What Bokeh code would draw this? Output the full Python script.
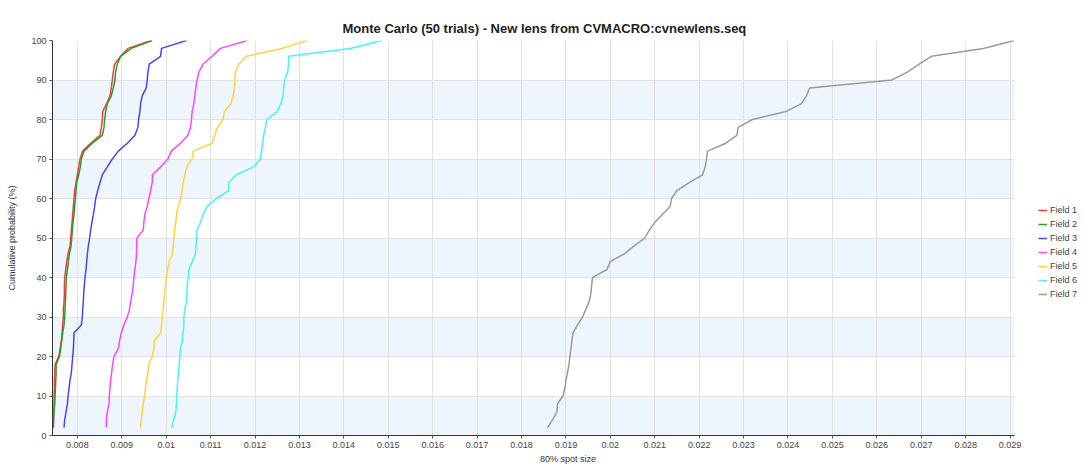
from bokeh.plotting import figure
from bokeh.models import (Range1d, FixedTicker, CustomJSTickFormatter, BoxAnnotation,
                          Legend, LegendItem, LinearAxis)
from bokeh.embed import file_html
from bokeh.resources import INLINE

title = "Monte Carlo (50 trials)  -  New lens from CVMACRO:cvnewlens.seq"
x_label = "80% spot size"
y_label = "Cumulative probability (%)"

probability = [2, 4, 6, 8, 10, 12, 14, 16, 18, 20, 22, 24, 26, 28, 30, 32, 34, 36, 38, 40,
               42, 44, 46, 48, 50, 52, 54, 56, 58, 60, 62, 64, 66, 68, 70, 72, 74, 76, 78, 80,
               82, 84, 86, 88, 90, 92, 94, 96, 98, 100]

field_names = ["Field 1", "Field 2", "Field 3", "Field 4", "Field 5", "Field 6", "Field 7"]
field_colors = ["#f23c3c", "#2e9a2e", "#4646f5", "#ff45ff", "#ffd23c", "#45f5f5", "#9a9a9a"]

field1 = [0.007461, 0.007468, 0.007468, 0.007476, 0.007476, 0.007483, 0.007483, 0.007491, 0.007498, 0.007581,
          0.007611, 0.007640, 0.007655, 0.007670, 0.007685, 0.007685, 0.007700, 0.007708, 0.007708, 0.007715,
          0.007738, 0.007760, 0.007790, 0.007835, 0.007850, 0.007865, 0.007880, 0.007895, 0.007910, 0.007925,
          0.007940, 0.007970, 0.008000, 0.008030, 0.008060, 0.008120, 0.008300, 0.008509, 0.008539, 0.008562,
          0.008569, 0.008659, 0.008734, 0.008764, 0.008786, 0.008809, 0.008839, 0.008974, 0.009138, 0.009663]
field2 = [0.007446, 0.007461, 0.007476, 0.007491, 0.007498, 0.007506, 0.007513, 0.007521, 0.007521, 0.007596,
          0.007625, 0.007648, 0.007670, 0.007700, 0.007715, 0.007723, 0.007730, 0.007738, 0.007745, 0.007753,
          0.007775, 0.007798, 0.007820, 0.007858, 0.007873, 0.007888, 0.007903, 0.007925, 0.007940, 0.007955,
          0.007970, 0.007985, 0.008030, 0.008067, 0.008090, 0.008150, 0.008337, 0.008562, 0.008599, 0.008614,
          0.008637, 0.008674, 0.008764, 0.008809, 0.008846, 0.008861, 0.008899, 0.008974, 0.009213, 0.009685]
field3 = [0.007700, 0.007715, 0.007745, 0.007775, 0.007790, 0.007813, 0.007835, 0.007865, 0.007880, 0.007895,
          0.007910, 0.007918, 0.007925, 0.008090, 0.008112, 0.008120, 0.008135, 0.008142, 0.008157, 0.008172,
          0.008195, 0.008210, 0.008225, 0.008247, 0.008277, 0.008300, 0.008330, 0.008360, 0.008389, 0.008412,
          0.008457, 0.008509, 0.008562, 0.008674, 0.008786, 0.008921, 0.009124, 0.009296, 0.009363, 0.009378,
          0.009408, 0.009423, 0.009461, 0.009550, 0.009573, 0.009588, 0.009618, 0.009873, 0.009895, 0.010457]
field4 = [0.008652, 0.008652, 0.008674, 0.008712, 0.008719, 0.008734, 0.008749, 0.008771, 0.008794, 0.008824,
          0.008921, 0.008951, 0.008989, 0.009049, 0.009124, 0.009176, 0.009198, 0.009236, 0.009258, 0.009273,
          0.009296, 0.009318, 0.009333, 0.009333, 0.009341, 0.009483, 0.009498, 0.009520, 0.009573, 0.009610,
          0.009648, 0.009685, 0.009693, 0.009873, 0.010037, 0.010112, 0.010322, 0.010487, 0.010547, 0.010569,
          0.010584, 0.010622, 0.010644, 0.010667, 0.010697, 0.010734, 0.010831, 0.011033, 0.011221, 0.011820]
field5 = [0.009423, 0.009438, 0.009461, 0.009483, 0.009513, 0.009535, 0.009558, 0.009588, 0.009610, 0.009685,
          0.009723, 0.009738, 0.009873, 0.009895, 0.009910, 0.009933, 0.009948, 0.009963, 0.009985, 0.010007,
          0.010030, 0.010060, 0.010142, 0.010157, 0.010172, 0.010187, 0.010217, 0.010232, 0.010269, 0.010322,
          0.010359, 0.010382, 0.010419, 0.010457, 0.010584, 0.010607, 0.011033, 0.011093, 0.011153, 0.011281,
          0.011311, 0.011460, 0.011505, 0.011535, 0.011543, 0.011558, 0.011633, 0.011805, 0.012606, 0.013168]
field6 = [0.010120, 0.010172, 0.010217, 0.010232, 0.010240, 0.010247, 0.010262, 0.010277, 0.010292, 0.010307,
          0.010322, 0.010367, 0.010382, 0.010397, 0.010397, 0.010419, 0.010457, 0.010464, 0.010472, 0.010494,
          0.010509, 0.010584, 0.010659, 0.010674, 0.010681, 0.010697, 0.010771, 0.010831, 0.010921, 0.011131,
          0.011408, 0.011408, 0.011580, 0.011970, 0.012120, 0.012142, 0.012172, 0.012194, 0.012232, 0.012269,
          0.012494, 0.012584, 0.012629, 0.012644, 0.012667, 0.012734, 0.012756, 0.012756, 0.014142, 0.014853]
field7 = [0.018587, 0.018700, 0.018797, 0.018812, 0.018932, 0.018977, 0.019000, 0.019038, 0.019068, 0.019090,
          0.019113, 0.019135, 0.019158, 0.019263, 0.019375, 0.019450, 0.019525, 0.019563, 0.019578, 0.019600,
          0.019923, 0.019998, 0.020313, 0.020538, 0.020778, 0.020876, 0.021003, 0.021176, 0.021348, 0.021378,
          0.021498, 0.021776, 0.022076, 0.022136, 0.022166, 0.022188, 0.022601, 0.022848, 0.022878, 0.023201,
          0.023951, 0.024304, 0.024416, 0.024491, 0.026337, 0.026689, 0.026952, 0.027230, 0.028400, 0.029090]

x_ticks = [0.008, 0.009, 0.010, 0.011, 0.012, 0.013, 0.014, 0.015, 0.016, 0.017, 0.018,
           0.019, 0.020, 0.021, 0.022, 0.023, 0.024, 0.025, 0.026, 0.027, 0.028, 0.029]
y_ticks = [0, 10, 20, 30, 40, 50, 60, 70, 80, 90, 100]

FONT = "Liberation Sans"

# layout (pixels): plotting area spans x 52..1014 and y 40..435 of the 1083x466 canvas;
# the frame is extended to the right edge so that the legend can live inside it.
W, H = 1083, 466
AREA_L, AREA_R, AREA_T, AREA_B = 52, 1014, 40, 435
x_start, x_stop = 0.00744, 0.0291
y_start, y_stop = y_ticks[0], y_ticks[-1]
x_view_end = x_start + (x_stop - x_start) * (W - AREA_L) / (AREA_R - AREA_L)

p = figure(width=W, height=H, output_backend="svg", toolbar_location=None,
           x_range=Range1d(x_start, x_view_end), y_range=Range1d(y_start, y_stop),
           min_border_left=AREA_L, min_border_right=0, min_border_top=AREA_T,
           min_border_bottom=H - AREA_B)
p.outline_line_color = None
p.background_fill_color = "white"
p.border_fill_color = "white"

xaxis = p.below[0]
yaxis = p.left[0]

# title, lifted up by an empty spacer axis between it and the plotting area
p.title.text = title
p.title.align = "left"
p.title.offset = 290
p.title.standoff = 10
p.title.text_font = FONT
p.title.text_font_size = "13px"
p.title.text_font_style = "bold"
p.title.text_color = "#222222"
spacer = LinearAxis(ticker=FixedTicker(ticks=[]), major_tick_out=13, major_tick_in=0,
                    major_label_standoff=0, axis_line_color=None, major_tick_line_color="white",
                    minor_tick_line_color=None)
p.add_layout(spacer, "above")

# alternating light-blue bands between horizontal grid lines
for i in range(0, len(y_ticks) - 1, 2):
    p.add_layout(BoxAnnotation(left=x_start, right=x_stop, bottom=y_ticks[i], top=y_ticks[i + 1],
                               fill_color="#eef5fc", fill_alpha=1.0, line_color=None, level="image"))

xg, yg = p.xgrid[0], p.ygrid[0]
for g in (xg, yg):
    g.grid_line_color = "#e2e2e2"
    g.grid_line_width = 1
xg.ticker = FixedTicker(ticks=x_ticks)
yg.ticker = FixedTicker(ticks=y_ticks)
if "cross_bounds" in yg.properties():
    yg.cross_bounds = (x_start, x_stop)
else:
    p.add_layout(BoxAnnotation(left=x_stop, fill_color="white", fill_alpha=1.0,
                               line_color=None, level="underlay"))

xaxis.ticker = FixedTicker(ticks=x_ticks)
xaxis.formatter = CustomJSTickFormatter(code="return String(Math.round(tick*1e6)/1e6);")
xaxis.bounds = (x_start, x_stop)
yaxis.ticker = FixedTicker(ticks=y_ticks)

for ax in (xaxis, yaxis):
    ax.axis_line_color = "#333333"
    ax.axis_line_width = 1
    ax.major_tick_line_color = "#555555"
    ax.major_tick_in = 0
    ax.major_tick_out = 3
    ax.minor_tick_line_color = None
    ax.major_label_text_font = FONT
    ax.major_label_text_font_size = "9px"
    ax.major_label_text_color = "#444444"
    ax.major_label_standoff = 3
    ax.axis_label_text_font = FONT
    ax.axis_label_text_font_size = "9px"
    ax.axis_label_text_font_style = "normal"
    ax.axis_label_text_color = "#333333"

yaxis.axis_label = y_label
yaxis.axis_label_standoff = 11
xaxis.axis_label = x_label
xaxis.axis_label_standoff = 3

series = [field1, field2, field3, field4, field5, field6, field7]
items = []
for name, color, xs in zip(field_names, field_colors, series):
    r = p.line(xs, probability, line_color=color, line_width=1.5)
    items.append(LegendItem(label=name, renderers=[r]))

legend = Legend(items=items, location=(986, 135), border_line_color=None,
                background_fill_alpha=0, label_text_font=FONT, label_text_font_size="9px",
                label_text_color="#444444", glyph_width=9, glyph_height=12, label_height=12,
                spacing=2, padding=0, margin=0, label_standoff=3)
p.add_layout(legend)

open("out.html", "w").write(file_html(p, INLINE))
